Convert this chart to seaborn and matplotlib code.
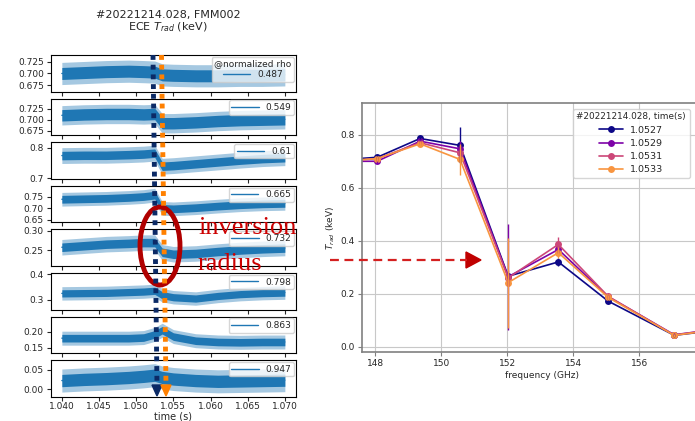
import numpy as np
import pandas as pd
import seaborn as sns
import matplotlib.pyplot as plt
from matplotlib.lines import Line2D
from matplotlib.patches import Ellipse, Polygon

# ---- left: ECE Trad time traces (envelope) ----
t_knots = [1.040, 1.043, 1.046, 1.049, 1.051, 1.0525, 1.0535, 1.055, 1.058, 1.061, 1.064, 1.067, 1.070]
rho_labels = ["0.487", "0.549", "0.61", "0.665", "0.732", "0.798", "0.863", "0.947"]
trace_0487 = [0.700, 0.702, 0.704, 0.705, 0.704, 0.703, 0.697, 0.696, 0.695, 0.695, 0.696, 0.696, 0.697]
trace_0549 = [0.710, 0.712, 0.713, 0.713, 0.712, 0.713, 0.692, 0.692, 0.694, 0.697, 0.699, 0.700, 0.701]
trace_0610 = [0.775, 0.776, 0.776, 0.778, 0.780, 0.783, 0.740, 0.742, 0.748, 0.754, 0.760, 0.765, 0.768]
trace_0665 = [0.740, 0.742, 0.744, 0.748, 0.752, 0.758, 0.700, 0.698, 0.703, 0.710, 0.716, 0.720, 0.722]
trace_0732 = [0.258, 0.262, 0.266, 0.268, 0.270, 0.270, 0.245, 0.240, 0.242, 0.247, 0.251, 0.254, 0.256]
trace_0798 = [0.325, 0.326, 0.327, 0.330, 0.332, 0.335, 0.318, 0.310, 0.305, 0.315, 0.322, 0.326, 0.328]
trace_0863 = [0.180, 0.180, 0.180, 0.180, 0.182, 0.192, 0.205, 0.185, 0.172, 0.168, 0.167, 0.168, 0.168]
trace_0947 = [0.022, 0.025, 0.027, 0.030, 0.033, 0.036, 0.030, 0.026, 0.022, 0.020, 0.021, 0.022, 0.023]
traces = [trace_0487, trace_0549, trace_0610, trace_0665, trace_0732, trace_0798, trace_0863, trace_0947]
# half-width of the dense noise band and of the outer spikes
noise_halfwidth = [0.013, 0.013, 0.014, 0.017, 0.011, 0.014, 0.012, 0.016]
spike_halfwidth = [0.024, 0.022, 0.026, 0.030, 0.020, 0.026, 0.022, 0.030]
time_ticks = [1.040, 1.045, 1.050, 1.055, 1.060, 1.065, 1.070]

# ---- right: Trad vs frequency ----
freq = [146.9, 148.06, 149.36, 150.57, 152.03, 153.55, 155.06, 157.06, 158.6]
times = ["1.0527", "1.0529", "1.0531", "1.0533"]
trad_10527 = [0.705, 0.715, 0.786, 0.760, 0.266, 0.320, 0.172, 0.043, 0.066]
trad_10529 = [0.700, 0.700, 0.776, 0.747, 0.264, 0.367, 0.189, 0.045, 0.070]
trad_10531 = [0.700, 0.710, 0.770, 0.732, 0.260, 0.386, 0.190, 0.044, 0.070]
trad_10533 = [0.700, 0.710, 0.766, 0.707, 0.242, 0.355, 0.186, 0.043, 0.068]
err_10527 = [0.005, 0.008, 0.008, 0.068, 0.012, 0.015, 0.008, 0.005, 0.005]
err_10529 = [0.005, 0.008, 0.008, 0.030, 0.200, 0.015, 0.008, 0.005, 0.005]
err_10531 = [0.005, 0.008, 0.008, 0.020, 0.030, 0.030, 0.008, 0.005, 0.005]
err_10533 = [0.005, 0.010, 0.010, 0.060, 0.170, 0.020, 0.008, 0.005, 0.005]
trad_all = [trad_10527, trad_10529, trad_10531, trad_10533]
err_all = [err_10527, err_10529, err_10531, err_10533]
time_colors = ["#0d0887", "#7e03a8", "#cc4778", "#f89540"]

W, H = 695, 421


def fx(px):
    return px / W


def fy(py):
    return 1 - py / H


sns.set_style("ticks")
plt.rcParams["font.family"] = ["DejaVu Sans"]
plt.rcParams["axes.edgecolor"] = "black"

fig = plt.figure(figsize=(W / 100, H / 100), dpi=100)

# left stack of 8 panels
ylims = [(0.661, 0.740), (0.665, 0.748), (0.699, 0.819), (0.639, 0.799),
         (0.210, 0.304), (0.2625, 0.404), (0.133, 0.248), (-0.020, 0.075)]
yticks = [[0.675, 0.700, 0.725], [0.675, 0.700, 0.725], [0.7, 0.8], [0.65, 0.70, 0.75],
          [0.25, 0.30], [0.3, 0.4], [0.15, 0.20], [0.00, 0.05]]
yfmt = ["%.3f", "%.3f", "%.1f", "%.2f", "%.2f", "%.1f", "%.2f", "%.2f"]
left_px, right_px = 50.7, 296
top0, step, h = 55, 43.6, 36.5
for i in range(8):
    top = top0 + i * step
    ax = fig.add_axes([fx(left_px), fy(top + h), (right_px - left_px) / W, h / H])
    c = np.array(traces[i])
    ax.fill_between(t_knots, c - spike_halfwidth[i], c + spike_halfwidth[i],
                    color="#1f77b4", alpha=0.4, lw=0)
    ax.fill_between(t_knots, c - noise_halfwidth[i], c + noise_halfwidth[i],
                    color="#1f77b4", lw=0)
    sns.lineplot(x=t_knots, y=traces[i], ax=ax, color="#1f77b4", lw=1, label=rho_labels[i])
    ax.set_xlim(1.0385, 1.0715)
    ax.set_ylim(*ylims[i])
    ax.set_yticks(yticks[i])
    ax.set_yticklabels([yfmt[i] % v for v in yticks[i]])
    ax.set_xticks(time_ticks)
    ax.tick_params(labelsize=6.5, length=3, width=0.8, pad=2)
    ax.tick_params(axis="x", pad=1)
    for s in ax.spines.values():
        s.set_linewidth(0.8)
    if i < 7:
        ax.set_xticklabels([])
    else:
        ax.set_xticklabels(["%.3f" % v for v in time_ticks])
        ax.set_xlabel("time (s)", fontsize=7, labelpad=0)
    ax.set_ylabel("")
    if i == 0:
        ax.legend(loc="upper right", fontsize=6.5, title="@normalized rho", title_fontsize=6.5,
                  handlelength=3, borderpad=0.3, borderaxespad=0.2, labelspacing=0.2)
    else:
        ax.legend(loc="upper right", fontsize=6.5, handlelength=3, borderpad=0.3,
                  borderaxespad=0.2)

fig.text(fx(168), fy(10), "#20221214.028, FMM002\nECE $T_{rad}$ (keV)", ha="center",
         va="top", fontsize=8, linespacing=1.0)

# right panel (cut off at the figure's right edge like the reference)
ax2 = fig.add_axes([fx(362), fy(352), (721.7 - 362) / W, (352 - 103) / H])
df = pd.DataFrame({
    "freq": freq * len(times),
    "trad": sum(trad_all, []),
    "time": [t for t in times for _ in freq],
})
sns.lineplot(data=df, x="freq", y="trad", hue="time", palette=time_colors, marker="o",
             markersize=5, markeredgewidth=0, lw=1.2, ax=ax2, errorbar=None)
for vals, errs, col in zip(trad_all, err_all, time_colors):
    ax2.errorbar(freq, vals, yerr=errs, fmt="none", ecolor=col, elinewidth=1)
ax2.set_xlim(147.6, 158.5)
ax2.set_ylim(-0.02, 0.92)
ax2.set_xticks([148, 150, 152, 154, 156])
ax2.set_yticks([0.0, 0.2, 0.4, 0.6, 0.8])
ax2.grid(True, color="#c8c8c8", lw=0.8)
for s in ax2.spines.values():
    s.set_color("#808080")
    s.set_linewidth(1.2)
ax2.tick_params(labelsize=6.5, length=3, color="#808080", pad=2)
ax2.set_xlabel("frequency (GHz)", fontsize=6.5, labelpad=2)
ax2.set_ylabel("$T_{rad}$ (keV)", fontsize=6.5, labelpad=3)
ax2.legend(title="#20221214.028, time(s)", title_fontsize=6.4, fontsize=6.8,
           loc="upper left", bbox_to_anchor=(fx(568), fy(104)),
           bbox_transform=fig.transFigure, borderpad=0.4, labelspacing=0.45,
           handlelength=2.5)

# overlays: dotted time markers, inversion-radius ellipse and labels, red arrow
for x0, x1, col in [(153, 157, "#0b2a66"), (161.5, 166, "#ff8000")]:
    fig.add_artist(Line2D([fx(x0), fx(x1)], [fy(55), fy(386)], transform=fig.transFigure,
                          color=col, lw=3.5, linestyle=(0, (1, 1))))
    fig.add_artist(Polygon([[fx(x1 - 5), fy(385)], [fx(x1 + 5), fy(385)], [fx(x1), fy(396)]],
                           closed=True, transform=fig.transFigure, color=col))

fig.add_artist(Ellipse((fx(160), fy(246)), 40 / W, 78 / H, transform=fig.transFigure,
                       fill=False, edgecolor="#b00000", lw=3.5))
fig.text(fx(198), fy(234), "inversion", fontsize=19, color="#cc0000",
         family=["Liberation Serif"], va="baseline")
fig.text(fx(198), fy(270), "radius", fontsize=19, color="#cc0000",
         family=["Liberation Serif"], va="baseline")

fig.add_artist(Line2D([fx(330), fx(467)], [fy(260), fy(260)], transform=fig.transFigure,
                      color="#d42020", lw=1.6, linestyle=(0, (4, 2.5))))
fig.add_artist(Polygon([[fx(466), fy(252)], [fx(481), fy(260)], [fx(466), fy(268)]],
                       closed=True, transform=fig.transFigure, color="#c00000"))

plt.savefig("out.png", dpi=100)
